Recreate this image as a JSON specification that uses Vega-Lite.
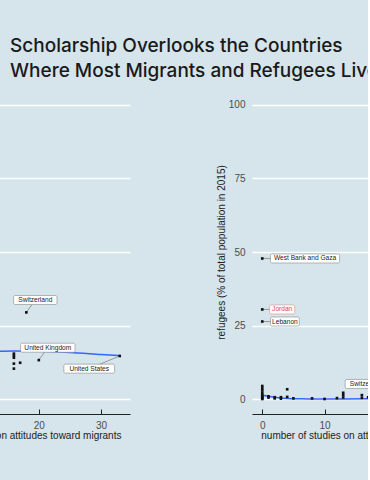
{
  "$schema": "https://vega.github.io/schema/vega-lite/v6.json",
  "background": "#d6e4eb",
  "padding": {"left": -132, "top": 37, "right": -110, "bottom": 43},
  "title": {
    "text": ["Scholarship Overlooks the Countries", "Where Most Migrants and Refugees Live"],
    "anchor": "start",
    "frame": "group",
    "font": "Inter",
    "fontSize": 19,
    "fontWeight": 500,
    "color": "#1a1a1a",
    "lineHeight": 25,
    "dx": 106,
    "offset": 9
  },
  "spacing": 86,
  "config": {
    "view": {"stroke": null},
    "font": "Liberation Sans",
    "axis": {
      "labelFont": "Liberation Sans",
      "titleFont": "Liberation Sans",
      "labelFontSize": 10,
      "titleFontSize": 10,
      "labelColor": "#4d4d4d",
      "titleColor": "#222222",
      "titleFontWeight": "normal"
    },
    "axisX": {
      "grid": false,
      "domainColor": "#222222",
      "domainWidth": 1,
      "tickColor": "#222222",
      "tickSize": -5,
      "tickWidth": 1,
      "labelPadding": 11,
      "titlePadding": 0
    },
    "axisY": {
      "domain": false,
      "ticks": false,
      "grid": true,
      "gridColor": "#ffffff",
      "gridWidth": 1.6,
      "labelPadding": 7,
      "titlePadding": 2
    }
  },
  "datasets": {
    "mig": [
      {"x": 16, "y": 15.5},
      {"x": 16, "y": 14.8},
      {"x": 16, "y": 14.1},
      {"x": 16, "y": 12.1},
      {"x": 16, "y": 10.4},
      {"x": 17, "y": 12.4},
      {"country": "Switzerland", "x": 18, "y": 29.5, "lx": 19.44, "ly": 33.7},
      {"country": "United Kingdom", "x": 20, "y": 13.3, "lx": 21.45, "ly": 17.5},
      {"country": "United States", "x": 33, "y": 14.7, "lx": 28.1, "ly": 10.4}
    ],
    "migfit": [
      {"x": 10, "y": 16.2},
      {"x": 13, "y": 16.3},
      {"x": 16, "y": 16.4},
      {"x": 20, "y": 16.3},
      {"x": 25, "y": 15.9},
      {"x": 30, "y": 15.2},
      {"x": 33, "y": 14.8}
    ],
    "ref": [
      {"country": "West Bank and Gaza", "x": 0, "y": 47.8, "lx": 6.87, "ly": 47.8},
      {"country": "Jordan", "x": 0, "y": 30.5, "lx": 3.2, "ly": 30.5},
      {"country": "Lebanon", "x": 0, "y": 26.4, "lx": 3.64, "ly": 26.4},
      {"x": 0, "y": 4.5},
      {"x": 0, "y": 3.7},
      {"x": 0, "y": 3.0},
      {"x": 0, "y": 2.2},
      {"x": 0, "y": 1.5},
      {"x": 0, "y": 1.0},
      {"x": 0, "y": 0.6},
      {"x": 0, "y": 0.3},
      {"x": 0, "y": 0.1},
      {"x": 1, "y": 1.0},
      {"x": 1, "y": 0.6},
      {"x": 2, "y": 0.3},
      {"x": 2, "y": 0.7},
      {"x": 3, "y": 0.7},
      {"x": 3, "y": 0.2},
      {"x": 4, "y": 3.4},
      {"x": 4, "y": 0.8},
      {"x": 5, "y": 0.3},
      {"x": 8, "y": 0.3},
      {"x": 10, "y": 0.1},
      {"x": 12, "y": 0.4},
      {"x": 13, "y": 2.2},
      {"x": 13, "y": 1.4},
      {"x": 13, "y": 0.6},
      {"x": 16, "y": 1.4},
      {"x": 16, "y": 0.5},
      {"x": 17, "y": 0.7},
      {"country": "Switzerland", "x": 21, "y": 1.0, "lx": 16.8, "ly": 5.2}
    ],
    "reffit": [
      {"x": 0, "y": 1.35},
      {"x": 1, "y": 1.0},
      {"x": 2, "y": 0.7},
      {"x": 3, "y": 0.45},
      {"x": 4, "y": 0.3},
      {"x": 6, "y": 0.15},
      {"x": 8, "y": 0.1},
      {"x": 10, "y": 0.08},
      {"x": 13, "y": 0.1},
      {"x": 17, "y": 0.15},
      {"x": 20, "y": 0.2},
      {"x": 25, "y": 0.25},
      {"x": 30, "y": 0.3},
      {"x": 33, "y": 0.3}
    ]
  },
  "hconcat": [
    {
      "width": 226,
      "height": 324,
      "layer": [
        {
          "data": {"name": "migfit"},
          "mark": {"type": "line", "color": "#3366ff", "strokeWidth": 1.5, "interpolate": "monotone"},
          "encoding": {
            "x": {"field": "x", "type": "quantitative", "scale": {"domain": [-1.65, 34.65], "nice": false, "zero": false}, "axis": {"title": "number of studies on attitudes toward migrants", "values": [0, 10, 20, 30]}},
            "y": {"field": "y", "type": "quantitative", "scale": {"domain": [-5, 105], "nice": false, "zero": false}, "axis": {"title": "migrants (% of total population in 2015)", "values": [0, 25, 50, 75, 100]}}
          }
        },
        {
          "data": {"name": "mig"},
          "transform": [{"filter": "isValid(datum.country)"}],
          "mark": {"type": "rule", "color": "#666666", "strokeWidth": 0.6},
          "encoding": {
            "x": {"field": "x", "type": "quantitative"},
            "y": {"field": "y", "type": "quantitative"},
            "x2": {"field": "lx"},
            "y2": {"field": "ly"}
          }
        },
        {
          "data": {"name": "mig"},
          "mark": {"type": "point", "shape": "square", "filled": true, "size": 7, "color": "#111111", "opacity": 1},
          "encoding": {
            "x": {"field": "x", "type": "quantitative"},
            "y": {"field": "y", "type": "quantitative"}
          }
        },
        {
          "data": {"name": "mig"},
          "transform": [{"filter": "isValid(datum.country)"}],
          "mark": {"type": "rect", "fill": "#ffffff", "stroke": "#888888", "strokeWidth": 0.6, "cornerRadius": 1.5, "width": {"expr": "length(datum.country)*3.67+3"}, "height": 9},
          "encoding": {
            "x": {"field": "lx", "type": "quantitative"},
            "y": {"field": "ly", "type": "quantitative"}
          }
        },
        {
          "data": {"name": "mig"},
          "transform": [{"filter": "isValid(datum.country)"}],
          "mark": {"type": "text", "font": "Liberation Sans", "fontSize": 6.6, "align": "center", "baseline": "middle", "color": "#222222"},
          "encoding": {
            "x": {"field": "lx", "type": "quantitative"},
            "y": {"field": "ly", "type": "quantitative"},
            "text": {"field": "country"}
          }
        }
      ]
    },
    {
      "width": 226,
      "height": 324,
      "layer": [
        {
          "data": {"name": "reffit"},
          "mark": {"type": "line", "color": "#3366ff", "strokeWidth": 1.5, "interpolate": "monotone"},
          "encoding": {
            "x": {"field": "x", "type": "quantitative", "scale": {"domain": [-1.65, 34.65], "nice": false, "zero": false}, "axis": {"title": "number of studies on attitudes toward refugees", "values": [0, 10, 20, 30]}},
            "y": {"field": "y", "type": "quantitative", "scale": {"domain": [-5, 105], "nice": false, "zero": false}, "axis": {"title": "refugees (% of total population in 2015)", "values": [0, 25, 50, 75, 100]}}
          }
        },
        {
          "data": {"name": "ref"},
          "transform": [{"filter": "isValid(datum.country)"}],
          "mark": {"type": "rule", "color": "#666666", "strokeWidth": 0.6},
          "encoding": {
            "x": {"field": "x", "type": "quantitative"},
            "y": {"field": "y", "type": "quantitative"},
            "x2": {"field": "lx"},
            "y2": {"field": "ly"}
          }
        },
        {
          "data": {"name": "ref"},
          "mark": {"type": "point", "shape": "square", "filled": true, "size": 7, "color": "#111111", "opacity": 1},
          "encoding": {
            "x": {"field": "x", "type": "quantitative"},
            "y": {"field": "y", "type": "quantitative"}
          }
        },
        {
          "data": {"name": "ref"},
          "transform": [{"filter": "isValid(datum.country)"}],
          "mark": {"type": "rect", "fill": "#ffffff", "strokeWidth": 0.6, "cornerRadius": 1.5, "width": {"expr": "length(datum.country)*3.67+3"}, "height": 9},
          "encoding": {
            "x": {"field": "lx", "type": "quantitative"},
            "y": {"field": "ly", "type": "quantitative"},
            "stroke": {"condition": {"test": "datum.country === 'Jordan'", "value": "#e08a8a"}, "value": "#888888"}
          }
        },
        {
          "data": {"name": "ref"},
          "transform": [{"filter": "isValid(datum.country)"}],
          "mark": {"type": "text", "font": "Liberation Sans", "fontSize": 6.6, "align": "center", "baseline": "middle"},
          "encoding": {
            "x": {"field": "lx", "type": "quantitative"},
            "y": {"field": "ly", "type": "quantitative"},
            "text": {"field": "country"},
            "color": {"condition": {"test": "datum.country === 'Jordan'", "value": "#e0474c"}, "value": "#222222"}
          }
        }
      ]
    }
  ]
}
